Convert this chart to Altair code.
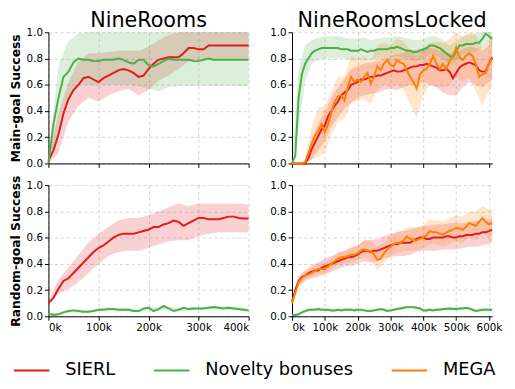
import altair as alt
import pandas as pd

METHODS = ["SIERL", "Novelty bonuses", "MEGA"]
COLORS = ["#e41a1c", "#4daf4a", "#ff7f00"]

# sample positions (environment steps)
steps_nr = list(range(0, 400001, 10000))            # 41
steps_nrl = list(range(0, 610001, 10000))           # 62
band_steps_nr = list(range(0, 400001, 20000))       # 21
band_steps_nrl = list(range(0, 600001, 20000)) + [610000]  # 32

# ---------------- NineRooms : main-goal success ----------------
nr_main_sierl = [0.02, 0.10, 0.22, 0.38, 0.49, 0.56, 0.60, 0.65, 0.66, 0.64,
                 0.62, 0.65, 0.67, 0.69, 0.71, 0.72, 0.71, 0.69, 0.66, 0.67,
                 0.72, 0.76, 0.79, 0.80, 0.81, 0.81, 0.81, 0.84, 0.88, 0.88,
                 0.87, 0.87, 0.90, 0.90, 0.90, 0.90, 0.90, 0.90, 0.90, 0.90, 0.90]
nr_main_nov = [0.0, 0.30, 0.50, 0.66, 0.70, 0.77, 0.80, 0.79, 0.79, 0.78,
               0.78, 0.79, 0.79, 0.79, 0.80, 0.79, 0.77, 0.76, 0.79, 0.79,
               0.75, 0.74, 0.76, 0.78, 0.80, 0.79, 0.79, 0.79, 0.79, 0.78,
               0.78, 0.79, 0.80, 0.79, 0.79, 0.79, 0.79, 0.79, 0.79, 0.79, 0.79]
nr_main_sierl_lo = [0.0, 0.08, 0.32, 0.44, 0.50, 0.47, 0.52, 0.55, 0.57, 0.52, 0.56,
                    0.63, 0.67, 0.72, 0.78, 0.79, 0.80, 0.80, 0.80, 0.80, 0.80]
nr_main_sierl_hi = [0.05, 0.38, 0.62, 0.78, 0.84, 0.84, 0.85, 0.86, 0.86, 0.86, 0.89,
                    0.94, 0.98, 1.0, 1.0, 1.0, 1.0, 1.0, 1.0, 1.0, 1.0]
nr_main_nov_lo = [0.0, 0.25, 0.48, 0.60, 0.60, 0.60, 0.60, 0.60, 0.60, 0.59, 0.57,
                  0.55, 0.58, 0.59, 0.59, 0.59, 0.59, 0.59, 0.59, 0.59, 0.59]
nr_main_nov_hi = [0.02, 0.75, 0.93, 0.99, 1.0, 1.0, 1.0, 1.0, 1.0, 1.0, 1.0,
                  1.0, 1.0, 1.0, 1.0, 1.0, 1.0, 1.0, 1.0, 1.0, 1.0]

# ---------------- NineRooms : random-goal success ----------------
nr_rand_sierl = [0.10, 0.14, 0.21, 0.27, 0.29, 0.33, 0.37, 0.41, 0.45, 0.49,
                 0.52, 0.54, 0.57, 0.60, 0.62, 0.63, 0.63, 0.63, 0.64, 0.65,
                 0.66, 0.68, 0.68, 0.70, 0.71, 0.73, 0.72, 0.69, 0.71, 0.73,
                 0.75, 0.75, 0.74, 0.74, 0.74, 0.75, 0.76, 0.76, 0.75, 0.745, 0.745]
nr_rand_nov = [0.02, 0.01, 0.015, 0.03, 0.04, 0.045, 0.04, 0.035, 0.035, 0.04,
               0.05, 0.05, 0.055, 0.055, 0.05, 0.05, 0.05, 0.04, 0.04, 0.06,
               0.065, 0.04, 0.055, 0.08, 0.06, 0.04, 0.05, 0.065, 0.055, 0.06,
               0.06, 0.06, 0.065, 0.07, 0.065, 0.06, 0.065, 0.06, 0.055, 0.05, 0.045]
nr_rand_sierl_lo = [0.09, 0.17, 0.21, 0.26, 0.33, 0.40, 0.46, 0.49, 0.50, 0.50, 0.52,
                    0.55, 0.57, 0.58, 0.58, 0.61, 0.63, 0.64, 0.64, 0.64, 0.64]
nr_rand_sierl_hi = [0.11, 0.28, 0.37, 0.47, 0.56, 0.63, 0.68, 0.73, 0.75, 0.75, 0.77,
                    0.80, 0.83, 0.86, 0.84, 0.86, 0.86, 0.86, 0.86, 0.86, 0.85]
nr_rand_nov_lo = [0.01, 0.005, 0.028, 0.028, 0.025, 0.038, 0.043, 0.038, 0.038, 0.028, 0.052,
                  0.043, 0.048, 0.038, 0.043, 0.048, 0.053, 0.053, 0.053, 0.043, 0.033]
nr_rand_nov_hi = [0.03, 0.025, 0.052, 0.052, 0.045, 0.062, 0.067, 0.062, 0.062, 0.052, 0.078,
                  0.067, 0.072, 0.062, 0.067, 0.072, 0.077, 0.077, 0.077, 0.067, 0.057]

# ---------------- NineRoomsLocked : main-goal success ----------------
nrl_main_sierl = [0.0, 0.0, 0.0, 0.0, 0.0, 0.04, 0.11, 0.16, 0.21, 0.26,
                  0.29, 0.36, 0.40, 0.44, 0.47, 0.52, 0.54, 0.56, 0.60, 0.61,
                  0.62, 0.64, 0.64, 0.65, 0.66, 0.66, 0.67, 0.67, 0.68, 0.69,
                  0.70, 0.71, 0.70, 0.70, 0.71, 0.72, 0.73, 0.74, 0.74, 0.75,
                  0.75, 0.76, 0.75, 0.74, 0.73, 0.71, 0.71, 0.72, 0.70, 0.65,
                  0.69, 0.73, 0.75, 0.76, 0.77, 0.76, 0.75, 0.71, 0.70, 0.70,
                  0.76, 0.81]
nrl_main_mega = [0.0, 0.0, 0.0, 0.0, 0.01, 0.08, 0.15, 0.21, 0.25, 0.30,
                 0.24, 0.30, 0.39, 0.47, 0.51, 0.52, 0.48, 0.58, 0.66, 0.62,
                 0.64, 0.62, 0.66, 0.69, 0.61, 0.66, 0.74, 0.71, 0.76, 0.79,
                 0.75, 0.74, 0.79, 0.77, 0.76, 0.71, 0.66, 0.62, 0.57, 0.68,
                 0.71, 0.72, 0.76, 0.82, 0.76, 0.72, 0.76, 0.72, 0.78, 0.82,
                 0.88, 0.81, 0.79, 0.82, 0.84, 0.82, 0.76, 0.66, 0.68, 0.69,
                 0.76, 0.80]
nrl_main_nov = [0.0, 0.06, 0.50, 0.68, 0.76, 0.80, 0.84, 0.86, 0.87, 0.88,
                0.88, 0.88, 0.88, 0.88, 0.88, 0.87, 0.87, 0.87, 0.86, 0.86,
                0.86, 0.87, 0.86, 0.85, 0.86, 0.86, 0.87, 0.87, 0.87, 0.87,
                0.88, 0.88, 0.89, 0.88, 0.87, 0.86, 0.86, 0.85, 0.85, 0.86,
                0.87, 0.88, 0.90, 0.90, 0.89, 0.88, 0.86, 0.84, 0.82, 0.81,
                0.85, 0.90, 0.90, 0.91, 0.91, 0.91, 0.92, 0.92, 0.95, 0.99,
                0.97, 0.95]
nrl_main_sierl_lo = [0.0, 0.0, 0.0, 0.03, 0.10, 0.17, 0.28, 0.35, 0.42, 0.46, 0.50,
                     0.52, 0.53, 0.54, 0.56, 0.57, 0.56, 0.58, 0.60, 0.60, 0.62,
                     0.60, 0.58, 0.54, 0.52, 0.52, 0.58, 0.62, 0.60, 0.58, 0.62, 0.65]
nrl_main_sierl_hi = [0.0, 0.0, 0.0, 0.18, 0.30, 0.40, 0.50, 0.58, 0.65, 0.72, 0.74,
                     0.76, 0.77, 0.78, 0.80, 0.82, 0.83, 0.84, 0.86, 0.87, 0.88,
                     0.88, 0.87, 0.85, 0.84, 0.84, 0.87, 0.89, 0.88, 0.86, 0.90, 0.94]
nrl_main_mega_lo = [0.0, 0.0, 0.0, 0.03, 0.05, 0.08, 0.22, 0.32, 0.34, 0.46, 0.48,
                    0.49, 0.45, 0.56, 0.60, 0.58, 0.60, 0.56, 0.45, 0.34, 0.52,
                    0.60, 0.58, 0.58, 0.60, 0.66, 0.62, 0.66, 0.55, 0.44, 0.55, 0.58]
nrl_main_mega_hi = [0.0, 0.0, 0.03, 0.28, 0.42, 0.44, 0.55, 0.66, 0.66, 0.82, 0.80,
                    0.82, 0.78, 0.90, 0.92, 0.90, 0.95, 0.93, 0.87, 0.80, 0.88,
                    0.92, 0.93, 0.92, 0.95, 1.0, 0.97, 1.0, 0.98, 0.88, 0.93, 0.97]
nrl_main_nov_lo = [0.0, 0.28, 0.62, 0.76, 0.79, 0.80, 0.80, 0.80, 0.80, 0.79, 0.79,
                   0.79, 0.79, 0.80, 0.80, 0.81, 0.82, 0.80, 0.79, 0.78, 0.80,
                   0.83, 0.82, 0.79, 0.75, 0.78, 0.83, 0.84, 0.85, 0.88, 0.92, 0.90]
nrl_main_nov_hi = [0.01, 0.72, 0.90, 0.94, 0.96, 0.97, 0.97, 0.97, 0.96, 0.95, 0.95,
                   0.96, 0.94, 0.95, 0.96, 0.96, 0.97, 0.96, 0.95, 0.94, 0.95,
                   0.97, 0.97, 0.94, 0.90, 0.93, 0.97, 0.98, 0.99, 1.0, 1.0, 1.0]

# ---------------- NineRoomsLocked : random-goal success ----------------
nrl_rand_sierl = [0.11, 0.20, 0.27, 0.30, 0.31, 0.33, 0.34, 0.35, 0.35, 0.37,
                  0.38, 0.39, 0.40, 0.41, 0.42, 0.43, 0.44, 0.45, 0.45, 0.46,
                  0.47, 0.49, 0.50, 0.50, 0.49, 0.50, 0.50, 0.51, 0.52, 0.53,
                  0.54, 0.55, 0.55, 0.56, 0.56, 0.56, 0.56, 0.58, 0.59, 0.60,
                  0.60, 0.59, 0.59, 0.60, 0.60, 0.60, 0.60, 0.61, 0.61, 0.60,
                  0.60, 0.61, 0.61, 0.62, 0.62, 0.62, 0.63, 0.63, 0.64, 0.64,
                  0.65, 0.66]
nrl_rand_mega = [0.10, 0.18, 0.26, 0.29, 0.31, 0.32, 0.33, 0.35, 0.36, 0.36,
                 0.36, 0.38, 0.40, 0.42, 0.44, 0.45, 0.45, 0.46, 0.47, 0.47,
                 0.48, 0.50, 0.51, 0.50, 0.50, 0.47, 0.43, 0.44, 0.48, 0.51,
                 0.53, 0.55, 0.56, 0.56, 0.58, 0.61, 0.59, 0.58, 0.58, 0.59,
                 0.60, 0.62, 0.65, 0.64, 0.64, 0.63, 0.62, 0.64, 0.65, 0.66,
                 0.675, 0.67, 0.66, 0.68, 0.71, 0.70, 0.69, 0.72, 0.75, 0.72,
                 0.70, 0.71]
nrl_rand_nov = [0.01, 0.01, 0.015, 0.03, 0.04, 0.05, 0.05, 0.05, 0.055, 0.05,
                0.05, 0.05, 0.045, 0.045, 0.05, 0.045, 0.05, 0.05, 0.05, 0.045,
                0.05, 0.05, 0.045, 0.04, 0.04, 0.045, 0.05, 0.055, 0.05, 0.04,
                0.045, 0.05, 0.055, 0.06, 0.065, 0.07, 0.07, 0.07, 0.065, 0.06,
                0.045, 0.045, 0.05, 0.045, 0.05, 0.05, 0.055, 0.055, 0.06, 0.055,
                0.055, 0.06, 0.06, 0.065, 0.06, 0.05, 0.04, 0.045, 0.05, 0.05,
                0.05, 0.05]
nrl_rand_sierl_lo = [0.09, 0.23, 0.27, 0.29, 0.30, 0.32, 0.34, 0.36, 0.38, 0.39, 0.40,
                     0.42, 0.41, 0.42, 0.44, 0.45, 0.46, 0.46, 0.47, 0.49, 0.50,
                     0.50, 0.50, 0.51, 0.51, 0.51, 0.52, 0.53, 0.53, 0.54, 0.55, 0.56]
nrl_rand_sierl_hi = [0.13, 0.31, 0.35, 0.39, 0.41, 0.44, 0.46, 0.48, 0.50, 0.52, 0.54,
                     0.58, 0.58, 0.59, 0.61, 0.63, 0.64, 0.65, 0.66, 0.68, 0.69,
                     0.69, 0.70, 0.70, 0.71, 0.71, 0.71, 0.72, 0.73, 0.73, 0.74, 0.75]
nrl_rand_mega_lo = [0.09, 0.23, 0.28, 0.30, 0.32, 0.32, 0.36, 0.39, 0.40, 0.41, 0.43,
                    0.45, 0.43, 0.35, 0.41, 0.46, 0.48, 0.50, 0.50, 0.50, 0.52,
                    0.55, 0.55, 0.53, 0.55, 0.57, 0.56, 0.60, 0.59, 0.63, 0.60, 0.61]
nrl_rand_mega_hi = [0.11, 0.29, 0.34, 0.37, 0.40, 0.41, 0.44, 0.49, 0.50, 0.53, 0.54,
                    0.58, 0.58, 0.53, 0.56, 0.61, 0.64, 0.66, 0.68, 0.67, 0.69,
                    0.74, 0.73, 0.72, 0.75, 0.77, 0.76, 0.80, 0.80, 0.84, 0.81, 0.82]
nrl_rand_nov_lo = [0.0, 0.005, 0.028, 0.038, 0.043, 0.038, 0.033, 0.038, 0.038, 0.038, 0.038,
                   0.033, 0.028, 0.038, 0.038, 0.033, 0.043, 0.053, 0.058, 0.053, 0.033,
                   0.038, 0.038, 0.043, 0.048, 0.043, 0.048, 0.048, 0.028, 0.038, 0.038, 0.038]
nrl_rand_nov_hi = [0.02, 0.025, 0.052, 0.062, 0.067, 0.062, 0.057, 0.062, 0.062, 0.062, 0.062,
                   0.057, 0.052, 0.062, 0.062, 0.057, 0.067, 0.077, 0.082, 0.077, 0.057,
                   0.062, 0.062, 0.067, 0.072, 0.067, 0.072, 0.072, 0.052, 0.062, 0.062, 0.062]

FONT = "DejaVu Sans"
Y_TICKS = [0.0, 0.2, 0.4, 0.6, 0.8, 1.0]
COLOR_OF = dict(zip(METHODS, COLORS))


def panel(steps, band_steps, series, bands, xmax, xticks, show_xlabels, ytitle, title):
    rows = []
    for m, vals in series.items():
        for s, v in zip(steps, vals):
            rows.append({"step": s, "value": v, "method": m})
    line_df = pd.DataFrame(rows)

    xscale = alt.Scale(domain=[0, xmax], nice=False, zero=False)
    yscale = alt.Scale(domain=[0, 1], nice=False)
    xaxis = alt.Axis(values=xticks, labels=show_xlabels, title=None,
                     labelExpr="format(datum.value / 1000, 'd') + 'k'")
    yargs = dict(values=Y_TICKS, format=".1f")
    if ytitle:
        yargs.update(title=ytitle, titleFontWeight="bold", titleFontSize=12.5,
                     titleFont=FONT, titlePadding=4, titleColor="black")
    else:
        yargs.update(title=None)
    yaxis = alt.Axis(**yargs)

    layers = []
    for m, (lo, hi) in bands.items():
        bdf = pd.DataFrame({"step": band_steps, "lo": lo, "hi": hi})
        layers.append(alt.Chart(bdf).mark_area(
            fill=COLOR_OF[m], fillOpacity=0.2, strokeWidth=0).encode(
            x=alt.X("step:Q", scale=xscale, axis=xaxis),
            y=alt.Y("lo:Q", scale=yscale, axis=yaxis),
            y2="hi:Q",
        ))

    order = {m: i for i, m in enumerate(METHODS)}
    line_df["o"] = line_df["method"].map(order)
    line = alt.Chart(line_df).mark_line(strokeWidth=2).encode(
        x=alt.X("step:Q", scale=xscale, axis=xaxis),
        y=alt.Y("value:Q", scale=yscale, axis=yaxis),
        stroke=alt.Stroke(
            "method:N",
            scale=alt.Scale(domain=METHODS, range=COLORS),
            legend=alt.Legend(
                title=None, orient="none", direction="horizontal",
                legendX=-36, legendY=324,
                symbolType="stroke", symbolSize=1296, symbolStrokeWidth=2,
                labelFontSize=18, labelFont=FONT, labelColor="black",
                labelOffset=15, columnPadding=35, columns=3,
            ),
        ),
        order="o:Q",
    )
    layers.append(line)
    ch = alt.layer(*layers).properties(width=203, height=133)
    if title:
        ch = ch.properties(title=alt.TitleParams(
            title, fontSize=21, font=FONT, fontWeight="normal", color="black",
            anchor="middle", offset=-4))
    return ch


xt_nr = [0, 100000, 200000, 300000, 400000]
xt_nrl = [0, 100000, 200000, 300000, 400000, 500000, 600000]

p1 = panel(steps_nr, band_steps_nr,
           {"SIERL": nr_main_sierl, "Novelty bonuses": nr_main_nov},
           {"SIERL": (nr_main_sierl_lo, nr_main_sierl_hi),
            "Novelty bonuses": (nr_main_nov_lo, nr_main_nov_hi)},
           400000, xt_nr, False, "Main-goal Success", "NineRooms")
p2 = panel(steps_nrl, band_steps_nrl,
           {"SIERL": nrl_main_sierl, "Novelty bonuses": nrl_main_nov, "MEGA": nrl_main_mega},
           {"SIERL": (nrl_main_sierl_lo, nrl_main_sierl_hi),
            "Novelty bonuses": (nrl_main_nov_lo, nrl_main_nov_hi),
            "MEGA": (nrl_main_mega_lo, nrl_main_mega_hi)},
           610000, xt_nrl, False, None, "NineRoomsLocked")
p3 = panel(steps_nr, band_steps_nr,
           {"SIERL": nr_rand_sierl, "Novelty bonuses": nr_rand_nov},
           {"SIERL": (nr_rand_sierl_lo, nr_rand_sierl_hi),
            "Novelty bonuses": (nr_rand_nov_lo, nr_rand_nov_hi)},
           400000, xt_nr, True, "Random-goal Success", None)
p4 = panel(steps_nrl, band_steps_nrl,
           {"SIERL": nrl_rand_sierl, "Novelty bonuses": nrl_rand_nov, "MEGA": nrl_rand_mega},
           {"SIERL": (nrl_rand_sierl_lo, nrl_rand_sierl_hi),
            "Novelty bonuses": (nrl_rand_nov_lo, nrl_rand_nov_hi),
            "MEGA": (nrl_rand_mega_lo, nrl_rand_mega_hi)},
           610000, xt_nrl, True, None, None)

chart = alt.concat(p1, p2, p3, p4, columns=2, spacing={"row": 22, "column": 44},
                   bounds="flush").properties(
    padding={"left": 1, "top": 0, "right": 5, "bottom": 0}
).configure_view(stroke=None).configure_axis(
    domainColor="black", tickColor="black", tickSize=4, domainWidth=1,
    labelFont=FONT, labelFontSize=10.5, labelColor="black", labelPadding=2,
    gridColor="#c8c8c8", gridDash=[3, 3], gridWidth=0.8,
).configure_axisX(domain=True).configure_axisY(domain=True)

chart.save("out.html", embed_options={"renderer": "svg", "actions": False})
